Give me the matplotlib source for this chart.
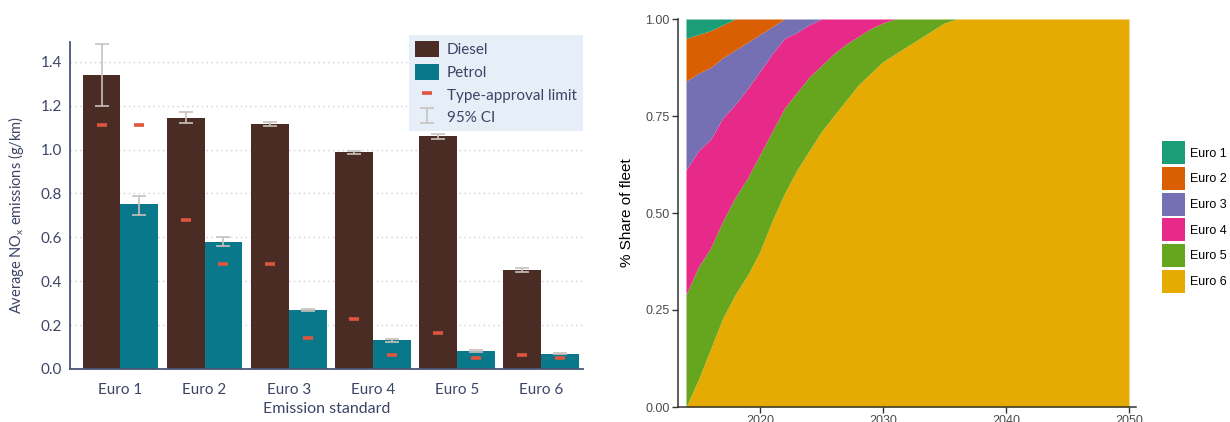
import numpy as np
import matplotlib.pyplot as plt

# NOx emissions by Euro standard (g/km)
standards = ['Euro 1', 'Euro 2', 'Euro 3', 'Euro 4', 'Euro 5', 'Euro 6']
diesel = [1.34, 1.145, 1.115, 0.99, 1.06, 0.45]
diesel_lo = [1.20, 1.12, 1.105, 0.98, 1.05, 0.44]
diesel_hi = [1.48, 1.17, 1.125, 0.995, 1.07, 0.46]
petrol = [0.75, 0.58, 0.27, 0.13, 0.08, 0.07]
petrol_lo = [0.70, 0.56, 0.265, 0.125, 0.078, 0.068]
petrol_hi = [0.79, 0.60, 0.275, 0.135, 0.085, 0.075]
diesel_limit = [1.11, 0.68, 0.48, 0.23, 0.165, 0.065]
petrol_limit = [1.11, 0.48, 0.14, 0.065, 0.05, 0.05]

# fleet share projection
years = list(range(2014, 2037)) + [2050]
euro6 = [0.00, 0.07, 0.15, 0.23, 0.29, 0.34, 0.40, 0.48, 0.55, 0.61, 0.66, 0.71,
         0.75, 0.79, 0.83, 0.86, 0.89, 0.91, 0.93, 0.95, 0.97, 0.99, 1.00, 1.00]
euro5 = [0.29, 0.29, 0.26, 0.25, 0.25, 0.25, 0.25, 0.23, 0.22, 0.20, 0.19, 0.17,
         0.16, 0.145, 0.125, 0.115, 0.10, 0.09, 0.07, 0.05, 0.03, 0.01, 0.0, 0.0]
euro4 = [0.32, 0.30, 0.28, 0.265, 0.24, 0.23, 0.215, 0.20, 0.18, 0.155, 0.135, 0.12,
         0.09, 0.065, 0.045, 0.025, 0.01, 0, 0, 0, 0, 0, 0, 0]
euro3 = [0.23, 0.20, 0.185, 0.155, 0.14, 0.12, 0.095, 0.07, 0.05, 0.035, 0.015, 0,
         0, 0, 0, 0, 0, 0, 0, 0, 0, 0, 0, 0]
euro2 = [0.11, 0.10, 0.095, 0.085, 0.08, 0.06, 0.04, 0.02, 0, 0, 0, 0,
         0, 0, 0, 0, 0, 0, 0, 0, 0, 0, 0, 0]
euro1 = [0.05, 0.04, 0.03, 0.015, 0, 0, 0, 0, 0, 0, 0, 0,
         0, 0, 0, 0, 0, 0, 0, 0, 0, 0, 0, 0]
fleet_labels = ['Euro 1', 'Euro 2', 'Euro 3', 'Euro 4', 'Euro 5', 'Euro 6']
fleet_colors = ['#1B9E77', '#D95F02', '#7570B3', '#E7298A', '#66A61E', '#E6AB02']

fig = plt.figure(figsize=(12.3, 4.22), dpi=100)

# ---- left: bar chart ----
txt = '#3d4466'
ax = fig.add_axes([70/1230, 53/422, 513/1230, 327/422])
x = np.arange(len(standards))
w = 0.45
ax.bar(x - w/2, diesel, w, color='#4b2c24', edgecolor='none', label='Diesel', zorder=2)
ax.bar(x + w/2, petrol, w, color='#0a788b', edgecolor='none', label='Petrol', zorder=2)
ax.plot(np.r_[x - w/2, x + w/2], diesel_limit + petrol_limit, ls='none', marker='_',
        ms=7.5, mew=2.6, color='#e0553d', label='Type-approval limit', zorder=4)
ex = np.r_[x - w/2, x + w/2]
ey = np.array(diesel + petrol)
elo = ey - np.array(diesel_lo + petrol_lo)
ehi = np.array(diesel_hi + petrol_hi) - ey
ax.errorbar(ex, ey, yerr=[elo, ehi], fmt='none', ecolor='#c9c2be', elinewidth=1.2,
            capsize=5, capthick=1.2, label='95% CI', zorder=3)

ax.set_xlim(-0.6, 5.5)
ax.set_ylim(0, 1.49)
ax.set_yticks([0.0, 0.2, 0.4, 0.6, 0.8, 1.0, 1.2, 1.4])
ax.set_yticklabels(['0.0', '0.2', '0.4', '0.6', '0.8', '1.0', '1.2', '1.4'])
ax.set_xticks(x)
ax.set_xticklabels(standards)
ax.tick_params(length=0, labelsize=11, labelcolor=txt, pad=6)
ax.tick_params(axis='x', pad=10)
for lab in ax.get_xticklabels() + ax.get_yticklabels():
    lab.set_fontfamily('Lato')
ax.yaxis.grid(True, linestyle=(0, (1, 2.5)), color='#cdd0d8', linewidth=1)
ax.set_axisbelow(True)
for s in ['top', 'right']:
    ax.spines[s].set_visible(False)
for s in ['left', 'bottom']:
    ax.spines[s].set_color('#4a5577')
    ax.spines[s].set_linewidth(1.3)
ax.set_xlabel('Emission standard', fontsize=11.5, color=txt, family='Lato', labelpad=4)
ax.set_ylabel('Average NO$_\\mathregular{x}$ emissions (g/km)', fontsize=10.5, color=txt,
              family='Lato')
ax.yaxis.set_label_coords(-0.086, 0.47)

h, l = ax.get_legend_handles_labels()
order = [l.index(n) for n in ['Diesel', 'Petrol', 'Type-approval limit', '95% CI']]
leg = ax.legend([h[i] for i in order], [l[i] for i in order], loc='upper right',
                bbox_to_anchor=(583/1230, 387/422), bbox_transform=fig.transFigure,
                prop={'family': 'Lato', 'size': 11}, labelcolor=txt, frameon=True,
                fancybox=False, facecolor='#e6eef7', edgecolor='none', framealpha=1,
                handlelength=1.6, handleheight=1.25, labelspacing=0.42, handletextpad=0.5,
                borderpad=0.4, borderaxespad=0)

# ---- right: stacked fleet share ----
ax2 = fig.add_axes([678/1230, 15/422, 458/1230, 388/422])
polys = ax2.stackplot(years, euro6, euro5, euro4, euro3, euro2, euro1,
                      colors=fleet_colors[::-1], labels=fleet_labels[::-1], linewidth=0)
ax2.set_xlim(2013.35, 2050.57)
ax2.set_ylim(0, 1)
ax2.set_xticks([2020, 2030, 2040, 2050])
ax2.set_yticks([0, 0.25, 0.5, 0.75, 1.0])
ax2.set_yticklabels(['0.00', '0.25', '0.50', '0.75', '1.00'])
ax2.tick_params(length=4, width=1, color='#333333', labelsize=9, labelcolor='#4d4d4d', pad=2)
for lab in ax2.get_xticklabels() + ax2.get_yticklabels():
    lab.set_fontfamily('Liberation Sans')
for s in ['top', 'right']:
    ax2.spines[s].set_visible(False)
for s in ['left', 'bottom']:
    ax2.spines[s].set_color('#333333')
    ax2.spines[s].set_linewidth(1.1)
ax2.set_ylabel('% Share of fleet', fontsize=11, family='Liberation Sans', labelpad=8)

for p in polys:
    p.set_edgecolor('white')
hh, ll = ax2.get_legend_handles_labels()
fig.legend(hh[::-1], ll[::-1], loc='center left', bbox_to_anchor=(1162/1230, 205/422),
           prop={'family': 'Liberation Sans', 'size': 9}, frameon=False,
           handlelength=1.85, handleheight=2.45, labelspacing=0.22, handletextpad=0.4,
           borderpad=0, borderaxespad=0)

fig.savefig('out.png', dpi=100)
